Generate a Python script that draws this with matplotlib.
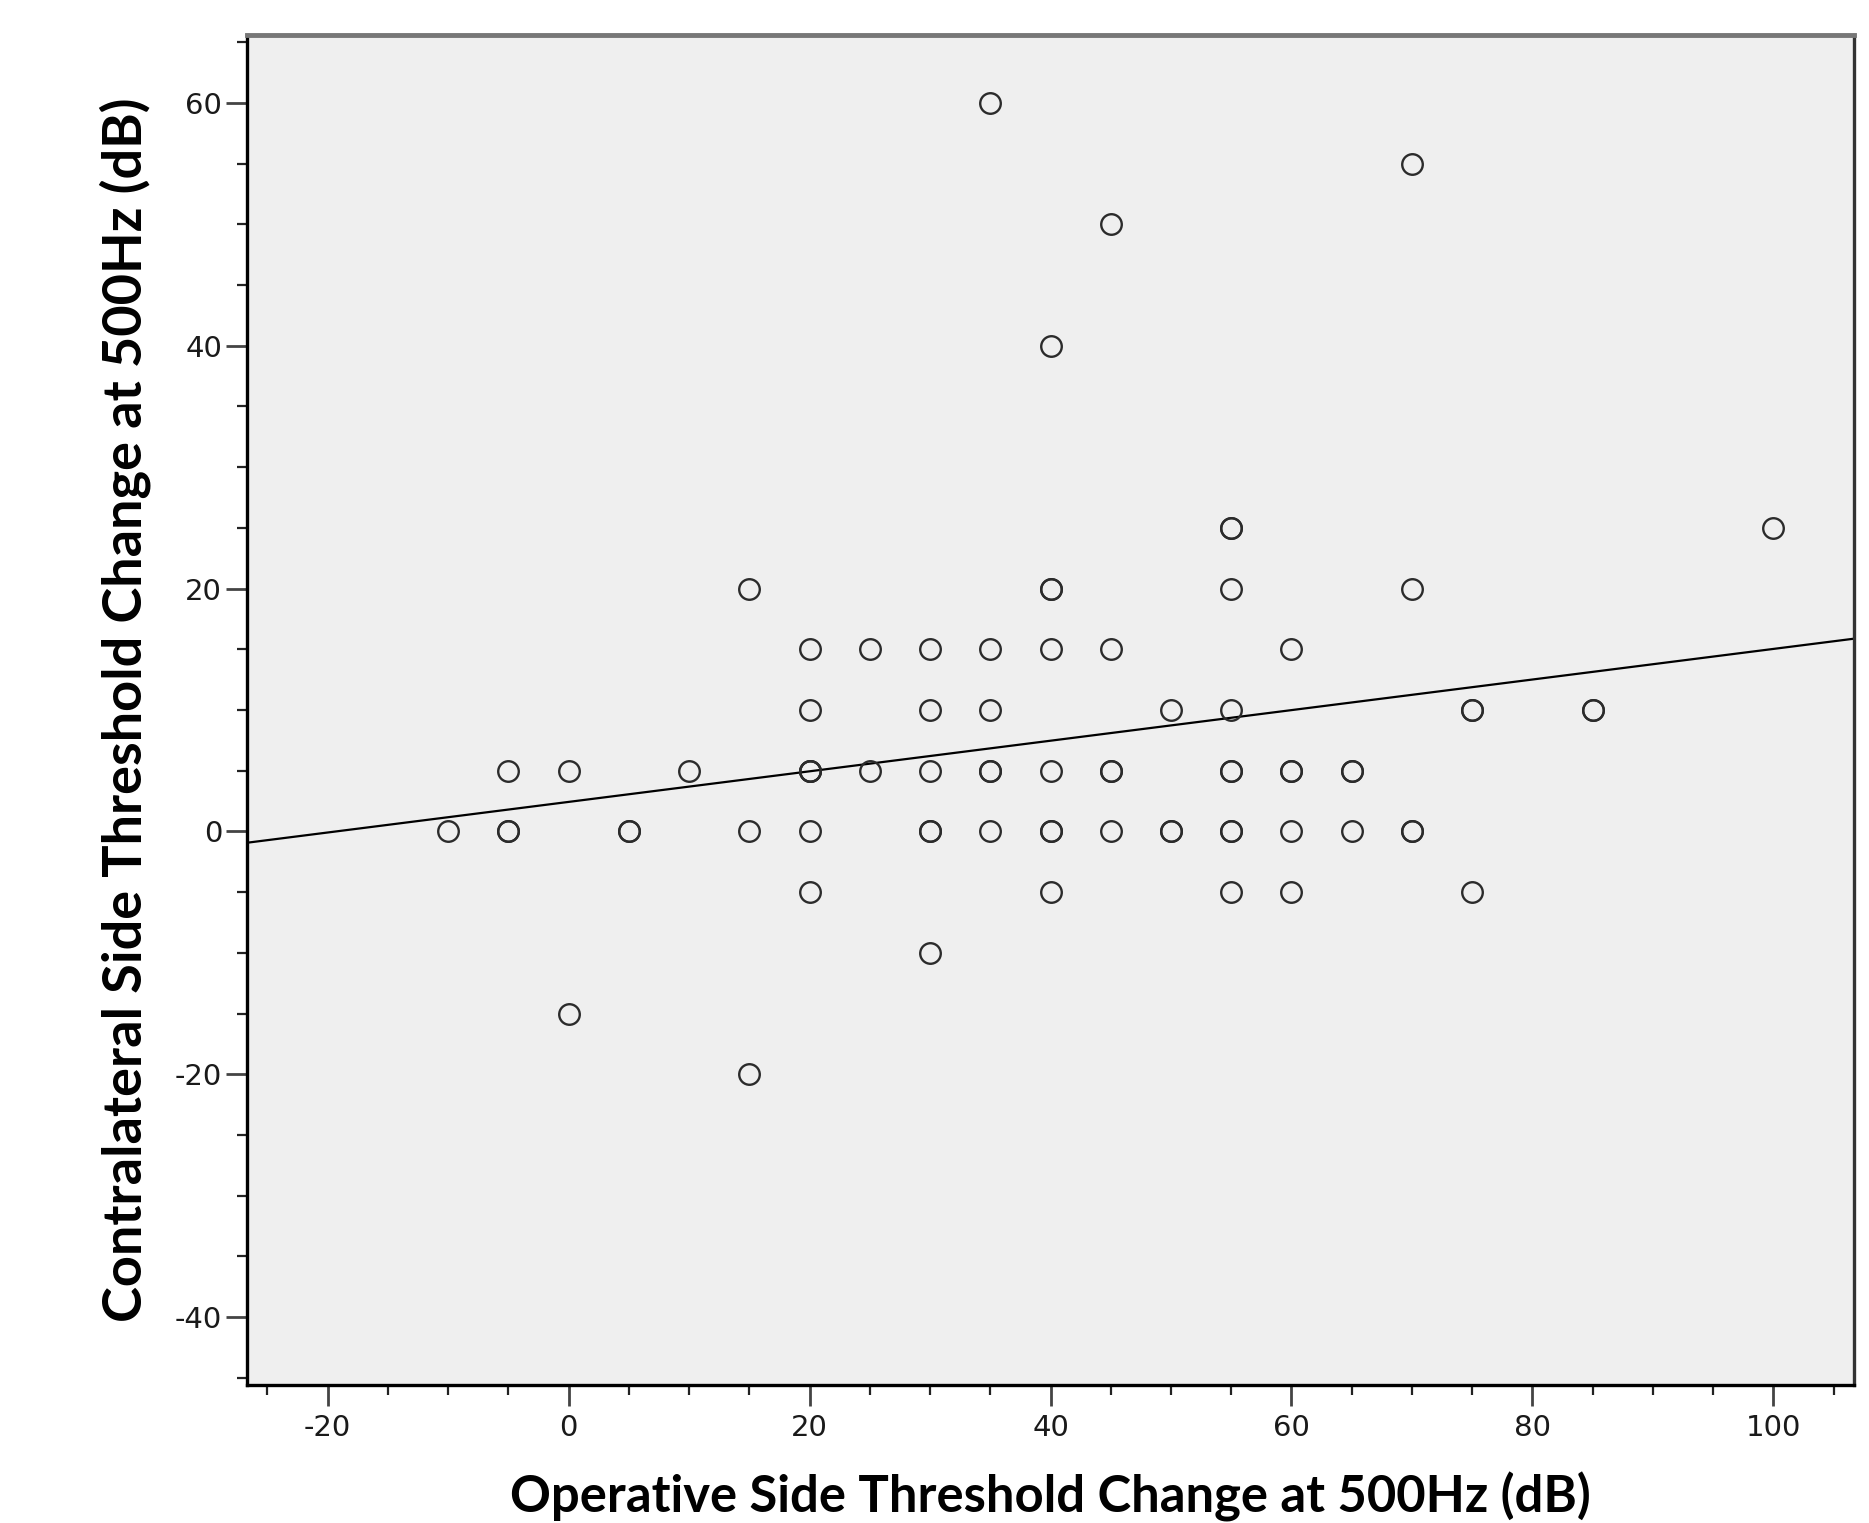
import matplotlib
matplotlib.use("Agg")
import matplotlib.pyplot as plt
from matplotlib.ticker import MultipleLocator, FixedLocator
import numpy as np

# ---- data ----
operative = [
    35, 70, 45, 40,
    55, 55, 100,
    15, 40, 40, 55, 70,
    20, 25, 30, 35, 40, 45, 60,
    20, 30, 35, 50, 55, 75, 75, 85, 85,
    -5, 0, 10, 20, 20, 20, 25, 30, 35, 35, 40, 45, 45, 55, 55, 60, 60, 65, 65,
    -10, -5, -5, 5, 5, 15, 20, 30, 30, 35, 40, 40, 45, 50, 50, 55, 55, 60, 65, 70, 70,
    20, 40, 55, 60, 75,
    30,
    0,
    15,
]
contralateral = [
    60, 55, 50, 40,
    25, 25, 25,
    20, 20, 20, 20, 20,
    15, 15, 15, 15, 15, 15, 15,
    10, 10, 10, 10, 10, 10, 10, 10, 10,
    5, 5, 5, 5, 5, 5, 5, 5, 5, 5, 5, 5, 5, 5, 5, 5, 5, 5, 5,
    0, 0, 0, 0, 0, 0, 0, 0, 0, 0, 0, 0, 0, 0, 0, 0, 0, 0, 0, 0, 0,
    -5, -5, -5, -5, -5,
    -10,
    -15,
    -20,
]
fit_intercept = 2.43
fit_slope = 0.126

x_label = "Operative Side Threshold Change at 500Hz (dB)"
y_label = "Contralateral Side Threshold Change at 500Hz (dB)"
x_major = [-20, 0, 20, 40, 60, 80, 100]
y_major = [-40, -20, 0, 20, 40, 60]

# ---- figure ----
plt.rcParams['axes.unicode_minus'] = False
fig = plt.figure(figsize=(18.69, 15.23), dpi=100)
ax = fig.add_axes([247/1869, 1 - 1385/1523, (1854-247)/1869, (1385-35)/1523])
ax.set_facecolor('#efefef')

ax.set_xlim(-26.7, 106.7)
ax.set_ylim(-45.6, 65.6)

ax.plot(operative, contralateral, linestyle='none', marker='o', markersize=14.8,
        markerfacecolor='none', markeredgecolor='#2b2b2b', markeredgewidth=1.7, zorder=3)

xl = np.array(ax.get_xlim())
ax.plot(xl, fit_intercept + fit_slope * xl, color='black', linewidth=1.6, zorder=2)

ax.xaxis.set_major_locator(FixedLocator(x_major))
ax.yaxis.set_major_locator(FixedLocator(y_major))
ax.xaxis.set_minor_locator(MultipleLocator(5))
ax.yaxis.set_minor_locator(MultipleLocator(5))

ax.tick_params(axis='both', which='major', length=15, width=2.0, color='#444444',
               labelsize=21, labelcolor='#1a1a1a', pad=3)
ax.tick_params(axis='x', which='major', pad=6)
ax.tick_params(axis='both', which='minor', length=7, width=1.6, color='#222222')
for lbl in ax.get_xticklabels() + ax.get_yticklabels():
    lbl.set_family('DejaVu Sans')

for side in ['left', 'bottom']:
    ax.spines[side].set_color('black')
    ax.spines[side].set_linewidth(2.4)
ax.spines['top'].set_color('#777777')
ax.spines['top'].set_linewidth(3.5)
ax.spines['right'].set_color('#333333')
ax.spines['right'].set_linewidth(2.4)

ax.set_xlabel(x_label, fontsize=36.5, fontweight='bold', family='Lato')
ax.set_ylabel(y_label, fontsize=39, fontweight='bold', family='Lato')
ax.xaxis.set_label_coords(0.5, -0.064)
ax.yaxis.set_label_coords(-0.0595, 0.5)

fig.savefig('out.png', dpi=100)
